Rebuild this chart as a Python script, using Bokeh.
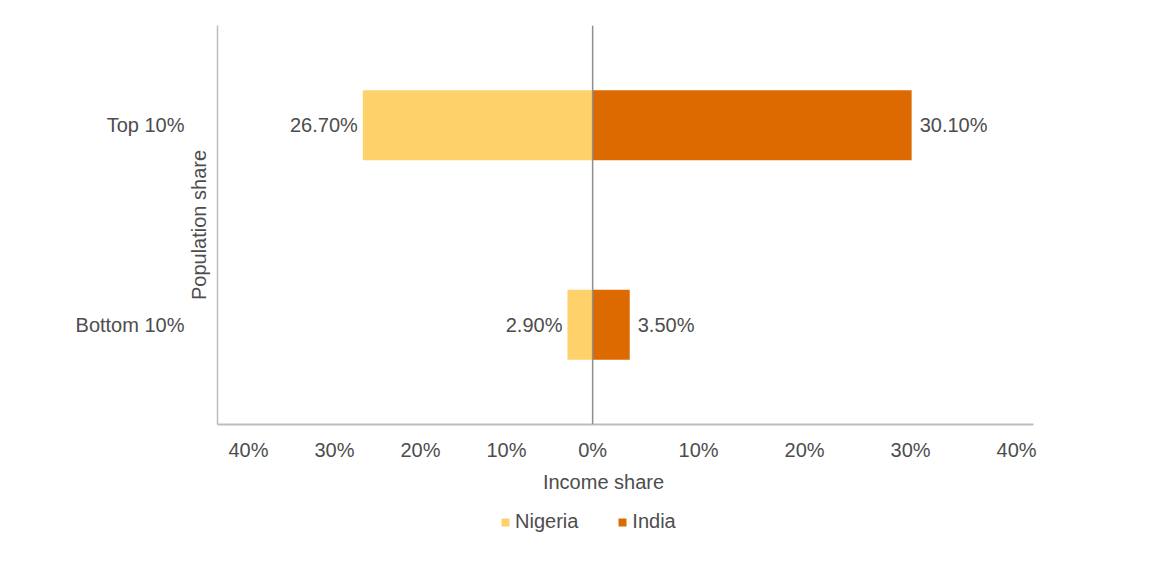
from bokeh.plotting import figure
from bokeh.layouts import column
from bokeh.models import (ColumnDataSource, Range1d, FactorRange, FixedTicker,
                          CustomJSTickFormatter, Span, Legend, LegendItem,
                          CategoricalAxis, Label)
from bokeh.core.properties import value
from bokeh.embed import file_html
from bokeh.resources import INLINE

# ---- data ----
categories = ["Bottom 10%", "Top 10%"]
nigeria = [2.9, 26.7]
india = [3.5, 30.1]
x_tick_pct = [40, 30, 20, 10, 0, 10, 20, 30, 40]
series = ["Nigeria", "India"]

NIG_COLOR = "#FED16A"
IND_COLOR = "#DD6A00"
FONT = "Liberation Sans"
TXT = "#4d4d4d"
AXIS = "#bdbdbd"

src = ColumnDataSource(dict(
    cat=categories,
    nig_left=[-v for v in nigeria],
    ind=india,
    nig_lbl=[f"{v:.2f}%" for v in nigeria],
    ind_lbl=[f"{v:.2f}%" for v in india],
))

# two different income-share scales that share the 0% position
ind_range = Range1d(-35.4, 41.6)
nig_range = Range1d(-43.6, 51.3)

p = figure(width=1157, height=465, output_backend="svg", toolbar_location=None,
           x_range=ind_range, y_range=FactorRange(factors=categories),
           y_axis_location=None,
           min_border_left=217, min_border_right=124, min_border_top=25,
           min_border_bottom=41)
p.extra_x_ranges = {"nig": nig_range}
p.outline_line_color = None
p.xgrid.visible = False
p.ygrid.visible = False
p.background_fill_color = "white"
p.border_fill_color = "white"

p.hbar(y="cat", left="nig_left", right=0, height=0.35, source=src,
       fill_color=NIG_COLOR, line_color=None, x_range_name="nig")
p.hbar(y="cat", left=0, right="ind", height=0.35, source=src,
       fill_color=IND_COLOR, line_color=None)

p.text(x="nig_left", y="cat", text="nig_lbl", source=src, x_range_name="nig",
       x_offset=-5, text_align="right", text_baseline="middle",
       text_font=value(FONT), text_font_size="20px", text_color=TXT)
p.text(x="ind", y="cat", text="ind_lbl", source=src,
       x_offset=8, text_align="left", text_baseline="middle",
       text_font=value(FONT), text_font_size="20px", text_color=TXT)

# centre (0%) line
p.add_layout(Span(location=0, dimension="height", line_color="#8f8f8f", line_width=1.5))

# x axis ticks: left half on Nigeria scale, right half on India scale
def nig_to_ind(v):
    return ind_range.start + (v - nig_range.start) / (nig_range.end - nig_range.start) * (ind_range.end - ind_range.start)

ticks = [nig_to_ind(-t) for t in x_tick_pct[:4]] + [float(t) for t in x_tick_pct[4:]]
p.xaxis.ticker = FixedTicker(ticks=ticks)
p.xaxis.formatter = CustomJSTickFormatter(
    args=dict(ns=nig_range.start, ne=nig_range.end, is_=ind_range.start, ie=ind_range.end),
    code="""
if (tick < -1e-9) {
  const v = ns + (tick - is_) / (ie - is_) * (ne - ns);
  return Math.round(-v) + '%';
}
return Math.round(tick) + '%';
""")
p.xaxis.major_tick_out = 0
p.xaxis.major_tick_in = 0
p.xaxis.minor_tick_line_color = None
p.xaxis.axis_line_color = AXIS
p.xaxis.axis_line_width = 2
p.xaxis.major_label_standoff = 14
p.xaxis.major_label_text_font = FONT
p.xaxis.major_label_text_font_size = "20px"
p.xaxis.major_label_text_color = TXT

# inner left axis: the axis line and the "Population share" title (no ticks)
ax_a = CategoricalAxis(ticker=FixedTicker(ticks=[]),
                       axis_label="Population share", axis_label_standoff=8,
                       axis_label_text_font=FONT, axis_label_text_font_size="20px",
                       axis_label_text_font_style="normal", axis_label_text_color=TXT,
                       major_tick_out=0, major_tick_in=0, major_tick_line_color=None,
                       major_label_standoff=0, major_label_text_font_size="0px",
                       axis_line_color=AXIS, axis_line_width=1.5)
p.add_layout(ax_a, "left")

# outer left axis: category labels
ax_b = CategoricalAxis(major_tick_out=0, major_tick_in=0, major_label_standoff=0,
                       axis_line_color=None, major_tick_line_color=None,
                       major_label_text_font=FONT, major_label_text_font_size="20px",
                       major_label_text_color=TXT)
p.add_layout(ax_b, "left")

# ---- bottom strip: x-axis title and legend (its frame is aligned with p's frame) ----
q = figure(width=1157, height=102, output_backend="svg", toolbar_location=None,
           x_range=Range1d(217, 1033), y_range=Range1d(0, 102),
           x_axis_location=None, y_axis_location=None,
           min_border_left=217, min_border_right=124, min_border_top=0, min_border_bottom=0)
q.outline_line_color = None
q.xgrid.visible = False
q.ygrid.visible = False
q.border_fill_color = "white"

q.add_layout(Label(x=603, y=86, text="Income share", text_align="center",
                   text_baseline="middle", text_font=FONT, text_font_size="20px",
                   text_color=TXT))

# swatch carriers for the legend, kept outside the visible strip
r_n = q.hbar(y=[-1000], left=[0], right=[1], height=1, fill_color=NIG_COLOR, line_color=None)
r_i = q.hbar(y=[-1000], left=[0], right=[1], height=1, fill_color=IND_COLOR, line_color=None)
legend = Legend(items=[LegendItem(label=series[0], renderers=[r_n]),
                       LegendItem(label=series[1], renderers=[r_i])],
                orientation="horizontal", location=(283, 34),
                glyph_width=10, glyph_height=10, label_standoff=5, spacing=39,
                padding=0, margin=0, border_line_color=None,
                background_fill_alpha=0,
                label_text_font=FONT, label_text_font_size="20px",
                label_text_color=TXT, label_height=20)
q.add_layout(legend, "center")

layout = column(p, q, spacing=0)
open("out.html", "w").write(file_html(layout, INLINE))
